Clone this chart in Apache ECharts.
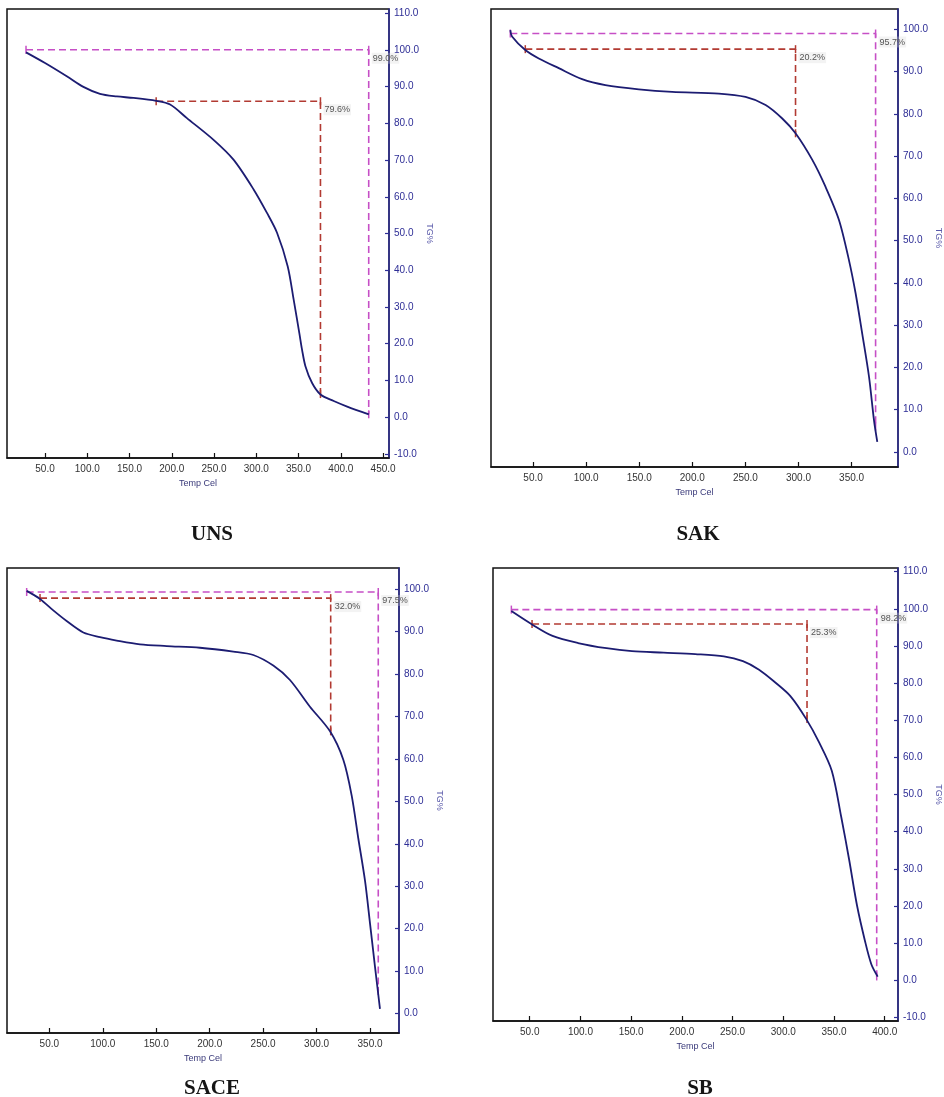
<!DOCTYPE html>
<html><head><meta charset="utf-8">
<script src="https://cdn.jsdelivr.net/npm/echarts@6/dist/echarts.min.js"></script>
<style>html,body{margin:0;padding:0;background:#fff}#c{width:944px;height:1097px}</style>
</head><body><div id="c"></div>
<script>
// ---- Data ----
const panelNames = ['UNS', 'SAK', 'SACE', 'SB'];

const unsTemp = [27.5, 50, 75.7, 95.4, 115, 135, 154.6, 181.5, 198, 217.9, 249.4, 273, 296.8, 312.6, 324.5, 337.1, 344.2, 350.9, 354.1, 358.1, 366, 375.9, 391.6, 407.5, 433.1];
const unsTG   = [99.3, 96.4, 92.8, 89.9, 88.0, 87.3, 86.9, 86.1, 85.1, 81.4, 75.5, 70.1, 62.0, 55.6, 50.2, 41.1, 32.0, 22.9, 18.4, 13.9, 9.3, 6.2, 4.4, 2.9, 0.8];

const sakTemp = [28.6, 30.2, 42.7, 55.4, 74.2, 96.2, 118.1, 149.6, 181, 225, 250.1, 269, 284.7, 297.2, 313, 325.5, 338.1, 347.5, 353.8, 360, 366.4, 371.1, 374.2];
const sakTG   = [99.8, 98.3, 95.1, 93.1, 90.8, 88.2, 86.8, 85.8, 85.2, 84.8, 84.0, 82.1, 78.9, 75.4, 69.1, 62.7, 54.9, 45.4, 37.5, 28.0, 17.8, 7.5, 2.4];

const saceTemp = [28.8, 41.3, 53.7, 66.2, 81.8, 97.4, 113, 134.8, 159.8, 190.9, 222.1, 240.8, 259.5, 275.1, 293.8, 312.6, 325, 332.8, 339, 345.3, 350, 354.6, 359.3];
const saceTG   = [99.6, 97.7, 95.0, 92.5, 89.8, 88.7, 87.9, 87.0, 86.6, 86.2, 85.3, 84.5, 82.0, 78.6, 72.3, 66.5, 59.8, 51.4, 41.3, 31.3, 21.2, 11.1, 1.1];

const sbTemp = [31.9, 52.3, 72.5, 97.6, 125.7, 150.8, 182, 213.2, 241.4, 260.2, 276.1, 291.5, 307, 322.7, 335.2, 347.8, 357.1, 364.9, 372.7, 380.6, 386.8, 393.1];
const sbTG   = [99.4, 95.8, 92.7, 90.8, 89.4, 88.6, 88.2, 87.8, 87.2, 85.9, 83.6, 80.3, 76.5, 70.3, 64.1, 56.4, 44.0, 32.5, 20.1, 10.5, 4.3, 0.95];

// step annotations: [xStart, yLevel, xCorner, yEnd]
const unsTotal  = [27.5, 100.0, 433.0, 0.8];   const unsTotalLabel  = '99.0%';
const unsStep   = [181.5, 86.0, 375.9, 6.3];   const unsStepLabel   = '79.6%';
const sakTotal  = [28.6, 99.0, 372.6, 6.0];    const sakTotalLabel  = '95.7%';
const sakStep   = [42.7, 95.3, 297.2, 75.4];   const sakStepLabel   = '20.2%';
const saceTotal = [28.8, 99.35, 357.7, 5.3];   const saceTotalLabel = '97.5%';
const saceStep  = [41.3, 97.9, 313.2, 66.5];   const saceStepLabel  = '32.0%';
const sbTotal   = [31.9, 99.8, 392.1, 1.0];    const sbTotalLabel   = '98.2%';
const sbStep    = [52.3, 95.9, 323.4, 70.3];   const sbStepLabel    = '25.3%';

// tick labels
const unsXTicks = [50, 100, 150, 200, 250, 300, 350, 400, 450];
const unsYTicks = [-10, 0, 10, 20, 30, 40, 50, 60, 70, 80, 90, 100, 110];
const sakXTicks = [50, 100, 150, 200, 250, 300, 350];
const sakYTicks = [0, 10, 20, 30, 40, 50, 60, 70, 80, 90, 100];
const saceXTicks = [50, 100, 150, 200, 250, 300, 350];
const saceYTicks = [0, 10, 20, 30, 40, 50, 60, 70, 80, 90, 100];
const sbXTicks = [50, 100, 150, 200, 250, 300, 350, 400];
const sbYTicks = [-10, 0, 10, 20, 30, 40, 50, 60, 70, 80, 90, 100, 110];

// ---- Layout ----
const panels = [
  {temp: unsTemp, tg: unsTG, total: unsTotal, totalLabel: unsTotalLabel, step: unsStep, stepLabel: unsStepLabel,
   xTicks: unsXTicks, yTicks: unsYTicks, xr: [5, 457], yr: [-11.1, 111.1],
   grid: {left: 7, top: 9, width: 382, height: 449}, title: [207, 519]},
  {temp: sakTemp, tg: sakTG, total: sakTotal, totalLabel: sakTotalLabel, step: sakStep, stepLabel: sakStepLabel,
   xTicks: sakXTicks, yTicks: sakYTicks, xr: [10.4, 393.7], yr: [-3.55, 104.8],
   grid: {left: 491, top: 9, width: 407, height: 458}, title: [693, 519]},
  {temp: saceTemp, tg: saceTG, total: saceTotal, totalLabel: saceTotalLabel, step: saceStep, stepLabel: saceStepLabel,
   xTicks: saceXTicks, yTicks: saceYTicks, xr: [10.4, 377.1], yr: [-4.6, 105.0],
   grid: {left: 7, top: 568, width: 392, height: 465}, title: [207, 1073]},
  {temp: sbTemp, tg: sbTG, total: sbTotal, totalLabel: sbTotalLabel, step: sbStep, stepLabel: sbStepLabel,
   xTicks: sbXTicks, yTicks: sbYTicks, xr: [13.8, 413.1], yr: [-11.0, 111.0],
   grid: {left: 493, top: 568, width: 426, height: 453}, title: [695, 1073]}
];

const NAVY = '#1c1c72';
const AXNAVY = '#2e2e96';
const RED = '#b23a32';
const MAG = '#c64fc6';
const tickFont = "'Liberation Sans Narrow','Liberation Sans',sans-serif";

const grids = [], xAxes = [], yAxes = [], series = [], titles = [];

function stepSeries(a, label, color, idx) {
  const pts = [[a[0], a[1]], [a[2], a[1]], [a[2], a[3]]];
  return {
    type: 'line', xAxisIndex: idx, yAxisIndex: idx, data: pts,
    symbol: 'rect', symbolSize: [1.5, 8], showAllSymbol: true,
    itemStyle: {color: color},
    lineStyle: {color: color, width: 1.6, type: [7, 4]},
    label: {show: false},
    z: 3, silent: true,
    markPoint: {
      symbol: 'circle', symbolSize: 0,
      data: [{coord: [a[2], a[1]], value: label}],
      label: {show: true, position: [3, 3], formatter: label, fontSize: 9,
              color: '#555', fontFamily: tickFont,
              backgroundColor: 'rgba(215,215,215,0.3)', padding: [1, 1]}
    }
  };
}

panels.forEach((p, i) => {
  grids.push(Object.assign({show: true, borderColor: '#111', borderWidth: 1.5, backgroundColor: 'transparent'}, p.grid));
  xAxes.push({
    type: 'value', gridIndex: i, min: p.xr[0], max: p.xr[1],
    name: 'Temp Cel', nameLocation: 'middle', nameGap: 21,
    nameTextStyle: {fontSize: 9, color: '#3a3a7a', fontFamily: tickFont},
    axisLine: {show: true, onZero: false, lineStyle: {color: '#111', width: 1.5}},
    axisTick: {show: true, inside: true, length: 5, lineStyle: {color: '#111', width: 1.2}, customValues: p.xTicks},
    axisLabel: {show: true, customValues: p.xTicks, formatter: v => v.toFixed(1), fontSize: 10,
                color: '#333', margin: 6, fontFamily: tickFont},
    splitLine: {show: false}
  });
  yAxes.push({
    type: 'value', gridIndex: i, position: 'right', min: p.yr[0], max: p.yr[1],
    name: 'TG%', nameLocation: 'middle', nameRotate: -90, nameGap: 36,
    nameTextStyle: {fontSize: 9, color: '#5a5aaa', fontFamily: tickFont},
    axisLine: {show: true, onZero: false, lineStyle: {color: AXNAVY, width: 1.5}},
    axisTick: {show: true, inside: true, length: 4, lineStyle: {color: AXNAVY, width: 1.2}, customValues: p.yTicks},
    axisLabel: {show: true, customValues: p.yTicks, formatter: v => v.toFixed(1), fontSize: 10,
                color: AXNAVY, margin: 5, fontFamily: tickFont},
    splitLine: {show: false}
  });
  series.push(stepSeries(p.total, p.totalLabel, MAG, i));
  series.push(stepSeries(p.step, p.stepLabel, RED, i));
  series.push({
    type: 'line', xAxisIndex: i, yAxisIndex: i,
    data: p.temp.map((t, k) => [t, p.tg[k]]),
    smooth: 0.3, symbol: 'none',
    lineStyle: {color: NAVY, width: 1.8}, z: 4, silent: true
  });
  titles.push({
    text: panelNames[i], left: p.title[0], top: p.title[1], textAlign: 'center',
    textStyle: {fontFamily: "'Liberation Serif','Times New Roman',serif", fontWeight: 'bold', fontSize: 21, color: '#151515'}
  });
});

const chart = echarts.init(document.getElementById('c'), null, {renderer: 'canvas'});
chart.setOption({
  animation: false,
  backgroundColor: '#fff',
  title: titles,
  grid: grids, xAxis: xAxes, yAxis: yAxes, series: series
});
</script>
</body></html>
